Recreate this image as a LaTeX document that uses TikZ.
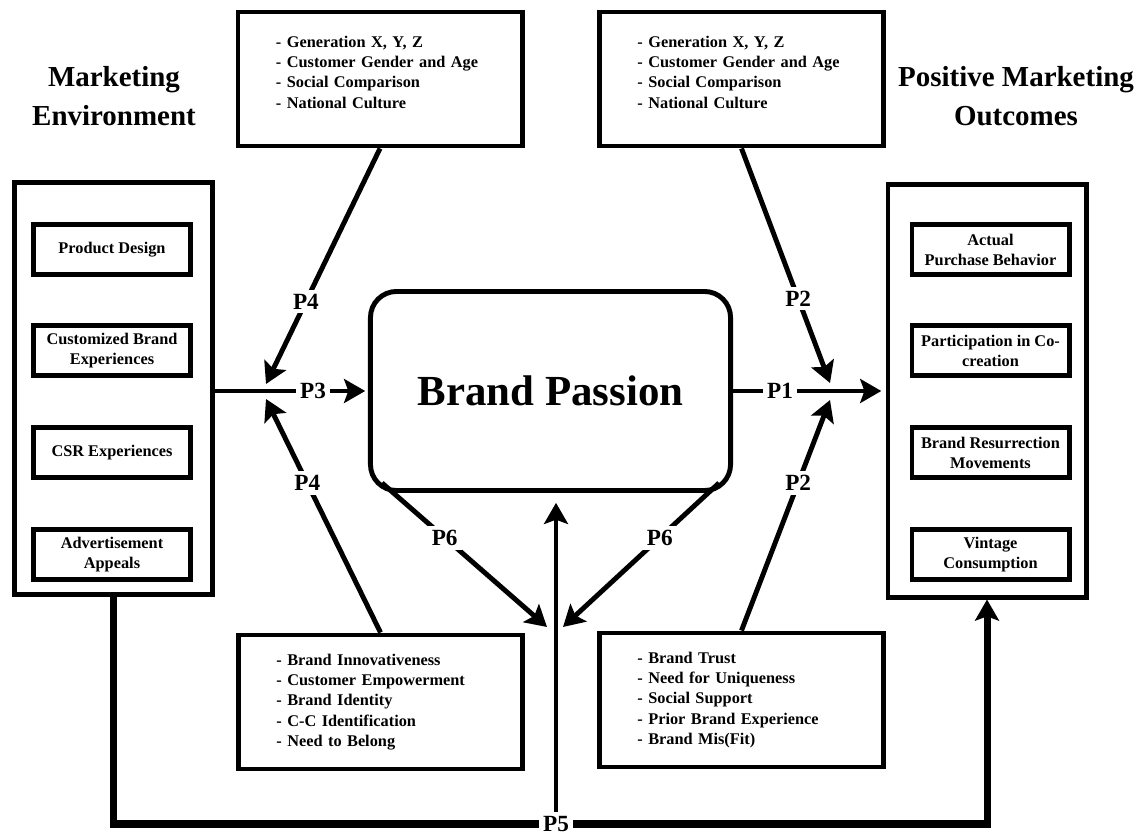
\documentclass[tikz,border=0pt]{standalone}
\usepackage{fontspec}
\setmainfont{Liberation Serif}
\usepackage{tikz}
\usetikzlibrary{arrows.meta}

\begin{document}
\begin{tikzpicture}[x=0.025cm,y=-0.025cm,
  link/.style={line width=3.5pt},
  arrow/.style={link,-{Stealth[length=15pt,width=17pt,inset=3pt]}},
  plabel/.style={fill=white,inner sep=3pt,font=\bfseries\fontsize{16.5}{18}\selectfont},
  title/.style={align=center,font=\bfseries\fontsize{20.6}{27.5}\selectfont},
  group/.style={draw,line width=3.5pt,minimum width=4.95cm,minimum height=10.3cm},
  item/.style={draw,line width=3.5pt,align=center,minimum width=3.925cm,minimum height=1.25cm,
    inner sep=1pt,font=\bfseries\fontsize{11.6}{14.2}\selectfont},
  listbox/.style={draw,line width=3.5pt,align=left,text width=5.2cm,inner xsep=0.95cm,
    minimum height=3.35cm,font=\bfseries\fontsize{11.6}{14.5}\selectfont}]
\useasboundingbox (0,0) rectangle (1148,832);

% titles
\node[title] (tenv) at (114,96) {Marketing\\Environment};
\node[title] (tout) at (1016,96) {Positive Marketing\\Outcomes};

% left and right groups
\node[group] (env) at (113.5,388.5) {};
\node[item] (i1) at (112,249.5) {Product Design};
\node[item] (i2) at (112,350.5) {Customized Brand\\Experiences};
\node[item] (i3) at (112,452.5) {CSR Experiences};
\node[item] (i4) at (112,554.5) {Advertisement\\Appeals};

\node[group] (out) at (987,391) {};
\node[item] (o1) at (990.5,249.5) {Actual\\Purchase Behavior};
\node[item] (o2) at (990.5,350.5) {Participation in Co-\\creation};
\node[item] (o3) at (990.5,452.5) {Brand Resurrection\\Movements};
\node[item] (o4) at (990.5,554.5) {Vintage\\Consumption};

% centre
\node[draw,line width=3.5pt,rounded corners=0.65cm,minimum width=9cm,minimum height=4.975cm,
  font=\bfseries\fontsize{30.5}{34}\selectfont] (bp) at (550.5,391) {Brand Passion};

% moderator boxes (top ones keep their text a little high)
\node[listbox] (tl) at (380,79) {- Generation X, Y, Z\\- Customer Gender and Age\\- Social Comparison\\- National Culture\\[-4.5pt]\mbox{}};
\node[listbox] (tr) at (741.5,79) {- Generation X, Y, Z\\- Customer Gender and Age\\- Social Comparison\\- National Culture\\[-4.5pt]\mbox{}};
\node[listbox] (bl) at (380.5,702) {- Brand Innovativeness\\- Customer Empowerment\\- Brand Identity\\- C-C Identification\\- Need to Belong};
\node[listbox] (br) at (741.5,700) {- Brand Trust\\- Need for Uniqueness\\- Social Support\\- Prior Brand Experience\\- Brand Mis(Fit)};

\coordinate (j3a) at (266,384);
\coordinate (j3b) at (266,399);
\coordinate (j1a) at (830,383);
\coordinate (j1b) at (830,400);
\coordinate (j5a) at (547,627);
\coordinate (j5b) at (563,627);

% P3 and P1
\node[plabel] (p3) at (313,391) {P3};
\draw[link] (p3 -| env.east) -- (p3.west);
\draw[arrow,shorten >=2pt] (p3.east) -- (bp.west);
\node[plabel] (p1) at (780,391) {P1};
\draw[link] (bp.east) -- (p1.west);
\draw[arrow,shorten >=3pt] (p1.east) -- (p1 -| out.west);

% P4 and P2
\draw[arrow] (tl.south) -- node[plabel,pos=0.65] {P4} (j3a);
\draw[arrow] (bl.north) -- node[plabel,pos=0.64] {P4} (j3b);
\draw[arrow] (tr.south) -- node[plabel,pos=0.64] {P2} (j1a);
\draw[arrow] (br.north) -- node[plabel,pos=0.64] {P2} (j1b);

% P6
\draw[arrow] ([shift={(14,-10)}]bp.south west) -- node[plabel,pos=0.38] {P6} (j5a);
\draw[arrow] ([shift={(-14,-10)}]bp.south east) -- node[plabel,pos=0.38] {P6} (j5b);

% P5
\node[plabel] (p5) at (556,824) {P5};
\draw[link,line width=5pt] (env.south) |- (p5);
\draw[arrow,line width=5pt] (p5) -| (out.south);
\draw[arrow,line width=3pt,shorten >=7pt] (p5) -- (p5 |- bp.south);
\end{tikzpicture}
\end{document}
